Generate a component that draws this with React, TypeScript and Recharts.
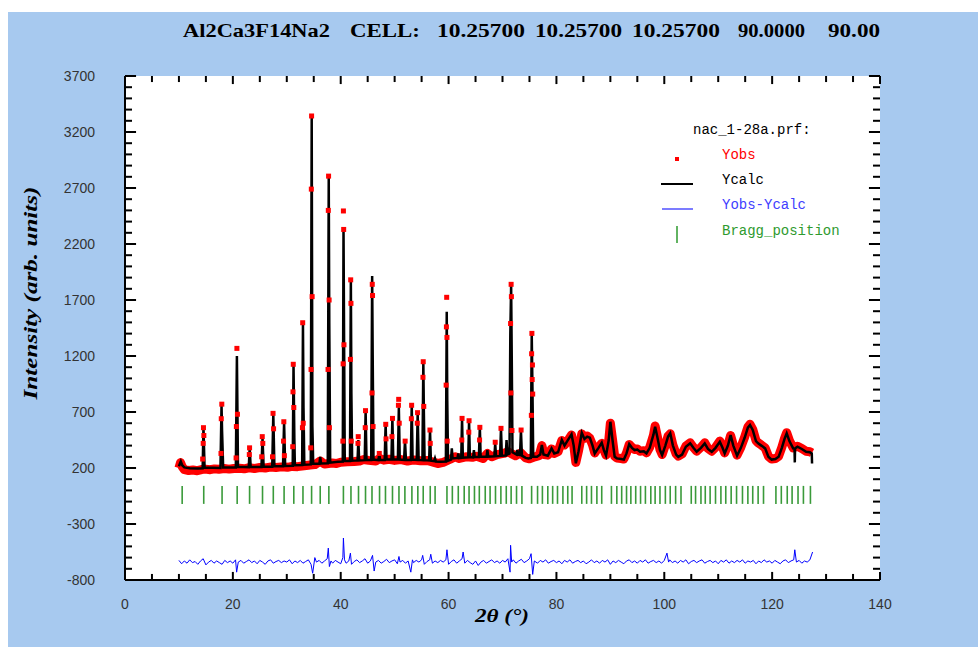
import React from "react";
import { ComposedChart, Line, Scatter, XAxis, YAxis, ReferenceLine } from "recharts";

// ---- data ----
const xMajorTicks = [0, 20, 40, 60, 80, 100, 120, 140];
const xAllTicks = [0, 5, 10, 15, 20, 25, 30, 35, 40, 45, 50, 55, 60, 65, 70, 75, 80, 85, 90, 95, 100, 105, 110, 115, 120, 125, 130, 135, 140];
const yMajorTicks = [-800, -300, 200, 700, 1200, 1700, 2200, 2700, 3200, 3700];
const yAllTicks = [
  -800, -700, -600, -500, -400, -300, -200, -100, 0, 100, 200, 300, 400, 500, 600, 700, 800, 900,
  1000, 1100, 1200, 1300, 1400, 1500, 1600, 1700, 1800, 1900, 2000, 2100, 2200, 2300, 2400, 2500,
  2600, 2700, 2800, 2900, 3000, 3100, 3200, 3300, 3400, 3500, 3600, 3700,
];

// Ycalc profile [2theta, intensity]
const calcProfile: [number, number][] = [
  [10.0, 215], [10.2, 240], [10.35, 258], [10.6, 225], [11.0, 205], [12.0, 198], [13.5, 196],
  [14.4, 198], [14.55, 565], [14.75, 205],
  [17.7, 200], [17.9, 760], [18.0, 530], [18.2, 205],
  [20.55, 205], [20.75, 1200], [20.95, 210],
  [22.95, 208], [23.12, 380], [23.3, 210],
  [25.3, 210], [25.5, 470], [25.7, 212],
  [27.3, 212], [27.5, 685], [27.7, 215],
  [29.3, 215], [29.5, 610], [29.7, 218],
  [31.1, 220], [31.25, 1125], [31.4, 470], [31.5, 225],
  [32.85, 226], [33.0, 1495], [33.1, 740], [33.25, 230],
  [34.45, 232], [34.62, 3340], [34.75, 570], [34.9, 240],
  [36.05, 238], [36.2, 300], [36.35, 240],
  [37.6, 242], [37.78, 2810], [37.88, 1500], [38.05, 248],
  [39.5, 255],
  [40.38, 258], [40.52, 2340], [40.62, 1400], [40.75, 262],
  [41.72, 262], [41.88, 1894], [41.98, 860], [42.12, 265],
  [43.12, 268], [43.27, 450], [43.42, 268],
  [44.45, 270], [44.62, 712], [44.78, 272],
  [45.65, 272], [45.83, 1914], [45.93, 1209], [46.08, 275],
  [47.0, 270], [47.15, 331], [47.3, 272],
  [48.15, 272], [48.33, 593], [48.5, 275],
  [49.4, 275], [49.58, 643], [49.75, 275],
  [50.6, 275], [50.78, 742], [50.95, 275],
  [51.75, 272], [51.92, 444], [52.1, 272],
  [53.0, 272], [53.17, 769], [53.33, 275],
  [54.1, 272], [54.27, 694], [54.45, 272],
  [55.15, 270], [55.32, 1149], [55.42, 700], [55.55, 270],
  [56.4, 268], [56.56, 539], [56.72, 265],
  [57.32, 262], [57.48, 286], [57.65, 258],
  [58.5, 255],
  [59.5, 258], [59.66, 1596], [59.76, 800], [59.9, 265],
  [60.45, 275], [60.6, 376], [60.75, 285],
  [61.65, 290], [61.8, 330], [61.95, 288],
  [62.35, 290], [62.5, 643], [62.65, 292],
  [63.65, 295], [63.8, 622], [63.95, 298],
  [64.55, 295], [64.7, 360], [64.85, 298],
  [65.62, 298], [65.8, 563], [65.95, 300],
  [67.05, 302], [67.2, 360], [67.35, 302],
  [68.5, 305], [68.65, 420], [68.8, 305],
  [69.55, 308], [69.72, 554], [69.88, 310],
  [70.6, 312], [70.75, 450], [70.9, 320],
  [71.3, 330], [71.45, 1400], [71.6, 1834], [71.72, 1164], [71.85, 340],
  [72.6, 320], [72.75, 360], [72.9, 318],
  [73.25, 315], [73.42, 539], [73.6, 310],
  [74.3, 290], [74.8, 285],
  [75.25, 290], [75.42, 1402], [75.55, 926], [75.7, 300],
  [76.4, 300], [77.0, 320], [77.3, 405], [77.6, 320], [78.4, 310], [79.1, 375], [79.6, 330],
  [80.3, 340], [81.0, 450], [81.5, 400], [82.0, 440], [82.8, 500], [83.2, 400], [83.6, 242],
  [84.1, 350], [84.7, 515], [85.2, 460], [85.7, 480], [86.2, 470], [86.7, 400], [87.1, 330],
  [87.8, 380], [88.4, 426], [88.8, 360], [89.2, 310], [89.7, 450], [90.0, 613], [90.4, 450],
  [90.8, 300], [91.2, 286], [92.0, 280], [92.5, 275], [93.0, 330], [93.5, 414], [94.0, 380],
  [94.5, 360], [95.0, 365], [95.5, 345], [96.2, 350], [96.7, 330], [97.3, 380], [98.0, 500],
  [98.3, 569], [98.7, 480], [99.2, 360], [99.6, 316], [100.2, 400], [100.7, 480], [101.1, 510],
  [101.6, 400], [102.2, 320], [102.6, 300], [103.3, 320], [104.0, 390], [104.8, 420], [105.4, 380],
  [106.0, 345], [106.8, 380], [107.5, 420], [108.1, 370], [108.8, 345], [109.5, 380], [110.3, 435],
  [110.8, 380], [111.2, 330], [111.8, 400], [112.3, 494], [112.8, 400], [113.5, 310], [114.2, 380],
  [114.9, 470], [115.5, 560], [115.9, 584], [116.4, 540], [117.0, 440], [117.4, 420], [118.0, 400],
  [118.7, 375], [119.3, 300], [119.9, 275], [120.6, 280], [121.2, 300], [121.8, 380], [122.3, 460],
  [122.7, 510], [123.2, 440], [123.9, 375], [124.15, 370], [124.2, 250], [124.25, 375], [124.7, 390],
  [125.5, 370], [126.3, 345], [127.0, 340], [127.35, 330], [127.4, 240],
];

// dense Yobs points, seen as a red band along the background
const obsBand: [number, number][] = [
  [10.0, 200], [10.3, 248], [10.6, 212], [11.0, 185], [11.8, 178], [12.6, 182], [13.4, 176], [14.2, 186],
  [14.9, 190], [15.8, 185], [16.6, 192], [17.4, 188], [18.4, 195], [19.3, 190], [20.2, 196], [21.2, 198],
  [22.1, 193], [23.0, 202], [24.0, 196], [25.0, 204], [26.0, 200], [26.9, 208], [28.0, 205], [29.0, 210],
  [30.1, 206], [31.0, 214], [32.0, 212], [33.6, 222], [34.3, 226], [35.2, 230], [36.2, 262], [37.0, 235],
  [38.4, 245], [39.2, 240], [40.0, 252], [41.2, 255], [42.5, 258], [43.5, 262], [44.2, 275], [45.2, 268],
  [46.5, 262], [47.2, 285], [48.0, 270], [49.0, 278], [50.0, 268], [51.2, 275], [52.4, 262], [53.6, 272],
  [54.8, 265], [56.0, 268], [57.0, 255], [58.0, 240], [59.0, 250], [60.3, 278], [61.2, 300], [62.0, 285],
  [63.2, 300], [64.4, 295], [65.2, 305], [66.4, 285], [67.2, 330], [68.0, 300], [69.0, 320], [70.2, 330],
  [71.0, 345], [72.4, 310], [73.4, 335], [74.3, 290], [75.0, 282], [76.0, 300], [76.8, 310], [77.3, 400],
  [77.7, 320], [78.4, 315], [79.1, 370], [79.6, 330], [80.3, 345], [81.0, 445], [81.5, 405], [82.0, 435],
  [82.8, 495], [83.2, 405], [83.6, 250], [84.1, 355], [84.7, 505], [85.2, 465], [85.7, 485], [86.2, 465],
  [86.7, 405], [87.1, 335], [87.8, 385], [88.4, 420], [88.8, 365], [89.2, 315], [89.7, 445], [90.0, 600],
  [90.4, 455], [90.8, 305], [91.2, 290], [92.0, 285], [92.5, 280], [93.0, 335], [93.5, 410], [94.0, 385],
  [94.5, 365], [95.0, 370], [95.5, 350], [96.2, 355], [96.7, 335], [97.3, 385], [98.0, 495], [98.3, 575],
  [98.7, 485], [99.2, 365], [99.6, 320], [100.2, 405], [100.7, 485], [101.1, 505], [101.6, 405], [102.2, 325],
  [102.6, 305], [103.3, 325], [104.0, 395], [104.8, 425], [105.4, 385], [106.0, 350], [106.8, 385], [107.5, 425],
  [108.1, 375], [108.8, 350], [109.5, 385], [110.3, 440], [110.8, 385], [111.2, 335], [111.8, 405], [112.3, 490],
  [112.8, 405], [113.5, 315], [114.2, 385], [114.9, 475], [115.5, 565], [115.9, 590], [116.4, 545], [117.0, 445],
  [117.4, 425], [118.0, 405], [118.7, 380], [119.3, 305], [119.9, 280], [120.6, 285], [121.2, 305], [121.8, 385],
  [122.3, 465], [122.7, 515], [123.2, 445], [123.9, 380], [124.7, 395], [125.5, 375], [126.3, 350], [127.0, 345],
  [127.4, 335],
];

// isolated Yobs points on the peak flanks and tops
const obsPeaks: [number, number][] = [
  [14.55, 560], [14.62, 490], [14.5, 420], [14.4, 280],
  [17.95, 770], [17.85, 640], [17.8, 330],
  [20.75, 1268], [20.85, 680], [20.65, 570], [20.6, 290],
  [23.1, 380], [23.05, 320],
  [25.45, 480], [25.55, 420], [25.35, 300],
  [27.45, 688], [27.55, 550], [27.35, 300],
  [29.45, 613], [29.4, 440], [29.55, 310],
  [31.2, 1126], [31.15, 880], [31.3, 740], [31.1, 390],
  [32.95, 1497], [32.9, 560], [33.05, 600],
  [34.6, 3343], [34.55, 2690], [34.7, 1730], [34.5, 1080], [34.45, 380],
  [37.75, 2806], [37.7, 2500], [37.85, 1700], [37.65, 1080], [37.9, 560],
  [40.5, 2495], [40.55, 2330], [40.6, 1300], [40.45, 1130], [40.4, 440],
  [41.85, 1880], [41.9, 1670], [41.8, 1170], [41.95, 440],
  [43.25, 480], [43.2, 420],
  [44.6, 712], [44.55, 560],
  [45.85, 1840], [45.9, 1740], [45.8, 870], [46.0, 570],
  [47.15, 330],
  [48.35, 590], [48.4, 460],
  [49.6, 643], [49.5, 480],
  [50.75, 813], [50.7, 760], [50.85, 600],
  [51.95, 440],
  [53.15, 760], [53.1, 640],
  [54.25, 694], [54.2, 600],
  [55.3, 1149], [55.25, 1010], [55.4, 750],
  [56.55, 539], [56.6, 420],
  [59.65, 1724], [59.6, 1460], [59.7, 1366], [59.55, 940], [59.75, 440],
  [62.5, 643], [62.45, 450],
  [63.8, 622], [63.75, 520],
  [65.8, 563], [65.75, 450],
  [68.65, 430],
  [69.72, 554],
  [71.6, 1840], [71.65, 1730], [71.5, 1490], [71.55, 870], [71.75, 535],
  [73.45, 539],
  [75.45, 1402], [75.4, 1220], [75.55, 1120], [75.5, 990], [75.6, 860], [75.35, 670],
];

// Yobs - Ycalc
const diffCurve: [number, number][] = [
  [10.0, -625], [10.5, -655], [11.0, -630], [11.5, -650], [12.0, -620], [12.5, -645], [13.0, -635], [13.5, -660],
  [14.0, -630], [14.5, -610], [15.0, -665], [15.5, -640], [16.0, -625], [16.5, -650], [17.0, -630], [17.5, -645],
  [18.0, -660], [18.5, -625], [19.0, -645], [19.5, -630], [20.0, -650], [20.5, -620], [20.7, -730], [21.0, -640],
  [21.5, -625], [22.0, -650], [22.5, -635], [23.0, -620], [23.5, -645], [24.0, -630], [24.5, -655], [25.0, -625],
  [25.5, -640], [26.0, -660], [26.5, -630], [27.0, -620], [27.5, -650], [28.0, -635], [28.5, -625], [29.0, -645],
  [29.5, -630], [30.0, -640], [30.5, -620], [31.0, -655], [31.5, -630], [32.0, -645], [32.5, -625], [33.0, -650],
  [33.5, -635], [34.0, -620], [34.5, -660], [34.8, -740], [35.2, -600], [35.5, -640], [36.0, -625], [36.5, -650],
  [37.0, -630], [37.5, -610], [37.7, -515], [37.9, -680], [38.2, -630], [38.5, -650], [39.0, -625], [39.5, -640],
  [40.0, -655], [40.4, -600], [40.5, -425], [40.7, -620], [41.0, -650], [41.5, -630], [41.8, -560], [42.0, -660],
  [42.5, -635], [43.0, -620], [43.5, -645], [44.0, -630], [44.5, -610], [45.0, -650], [45.5, -630], [45.9, -580],
  [46.2, -720], [46.5, -640], [47.0, -625], [47.5, -650], [48.0, -635], [48.5, -615], [49.0, -645], [49.5, -630],
  [50.0, -620], [50.5, -655], [50.8, -590], [51.0, -640], [51.5, -625], [52.0, -650], [52.5, -630], [53.0, -730],
  [53.3, -620], [53.5, -645], [54.0, -625], [54.5, -640], [55.0, -620], [55.2, -580], [55.5, -660], [56.0, -635],
  [56.5, -620], [56.7, -570], [57.0, -650], [57.5, -630], [58.0, -645], [58.5, -625], [59.0, -640], [59.5, -620],
  [59.7, -530], [60.0, -660], [60.5, -635], [61.0, -620], [61.5, -650], [62.0, -630], [62.5, -610], [62.7, -550],
  [63.0, -650], [63.5, -625], [64.0, -645], [64.5, -660], [65.0, -630], [65.5, -670], [66.0, -640], [66.5, -625],
  [67.0, -650], [67.5, -635], [68.0, -620], [68.5, -645], [69.0, -630], [69.5, -650], [70.0, -625], [70.5, -640],
  [71.0, -610], [71.4, -730], [71.5, -490], [71.7, -640], [72.0, -620], [72.5, -650], [73.0, -630], [73.5, -615],
  [74.0, -645], [74.5, -630], [75.0, -610], [75.3, -565], [75.6, -750], [75.9, -630], [76.5, -650], [77.0, -625],
  [77.5, -640], [78.0, -620], [78.5, -650], [79.0, -635], [79.5, -625], [80.0, -645], [80.5, -630], [81.0, -655],
  [81.5, -625], [82.0, -640], [82.5, -620], [83.0, -650], [83.5, -635], [84.0, -625], [84.5, -645], [85.0, -630],
  [85.5, -655], [86.0, -640], [86.5, -620], [87.0, -645], [87.5, -630], [88.0, -650], [88.5, -625], [89.0, -640],
  [89.5, -620], [90.0, -660], [90.5, -630], [91.0, -645], [91.5, -625], [92.0, -640], [92.5, -655], [93.0, -630],
  [93.5, -620], [94.0, -645], [94.5, -630], [95.0, -650], [95.5, -625], [96.0, -640], [96.5, -620], [97.0, -650],
  [97.5, -635], [98.0, -625], [98.5, -645], [99.0, -630], [99.5, -650], [100.0, -625], [100.5, -560], [100.8, -640],
  [101.0, -620], [101.5, -645], [102.0, -630], [102.5, -650], [103.0, -625], [103.5, -640], [104.0, -620], [104.5, -655],
  [105.0, -635], [105.5, -625], [106.0, -645], [106.5, -630], [107.0, -620], [107.5, -650], [108.0, -635], [108.5, -625],
  [109.0, -645], [109.5, -630], [110.0, -655], [110.5, -625], [111.0, -640], [111.5, -620], [112.0, -650], [112.5, -630],
  [113.0, -645], [113.5, -625], [114.0, -640], [114.5, -620], [115.0, -650], [115.5, -630], [116.0, -640], [116.5, -625],
  [117.0, -655], [117.5, -630], [118.0, -645], [118.5, -620], [119.0, -640], [119.5, -630], [120.0, -650], [120.5, -625],
  [121.0, -640], [121.5, -655], [122.0, -630], [122.5, -620], [123.0, -645], [123.5, -630], [124.0, -620], [124.2, -530],
  [124.5, -640], [125.0, -625], [125.5, -650], [126.0, -630], [126.5, -640], [127.0, -620], [127.5, -550],
];

const braggPositions = [
  10.6, 14.6, 18.0, 20.8, 23.1, 25.5, 27.5, 29.5, 31.3, 33.0, 34.6, 36.2, 37.8,
  40.5, 41.9, 43.3, 44.6, 45.8, 47.2, 48.3, 49.6, 50.8, 51.9, 53.2, 54.3, 55.3, 56.6, 57.5,
  59.7, 60.7, 61.8, 62.9, 63.8, 64.8, 65.7, 66.8, 67.7, 68.7, 69.7,
  70.7, 71.6, 72.6, 73.6, 75.4, 76.5, 77.4, 78.4, 79.3, 80.2, 81.2, 82.1, 82.9,
  84.7, 85.6, 86.5, 87.5, 88.4, 90.2, 91.2, 92.1, 93.0, 93.8, 94.7, 95.6, 96.5, 97.5, 98.3, 99.2,
  100.2, 101.1, 102.1, 103.1, 105.0, 105.8, 106.8, 107.6, 108.5, 109.5, 110.5, 111.4, 112.4, 113.4,
  114.5, 115.5, 116.4, 117.4, 118.4, 120.7, 121.7, 122.8, 123.7, 124.8, 125.8, 127.1,
];
const braggLevel = -40;

const titleParts: [string, number, number][] = [
  ["Al2Ca3F14Na2", 183, 147],
  ["CELL:", 350, 70],
  ["10.25700", 437, 88],
  ["10.25700", 535, 87],
  ["10.25700", 632, 88],
  ["90.0000", 738, 67],
  ["90.00", 828, 52],
];

const toPts = (arr: [number, number][]) => arr.map(([x, y]) => ({ x, y }));

const SANS = '"Liberation Sans", Arial, sans-serif';
const SERIF = '"Liberation Serif", "Times New Roman", serif';
const MONO = '"Liberation Mono", "Courier New", monospace';

const X_MIN = 0, X_MAX = 140, Y_MIN = -800, Y_MAX = 3700;
// inward frame tick lengths, in data units
const xTickLen = { major: 2.05, minor: 1.3 };
const yTickLen = { major: 72, minor: 54 };

const ObsDot = (p: any) => <rect x={p.cx - 2.5} y={p.cy - 2.5} width={5} height={5} fill="#ff0000" />;
const BraggTick = (p: any) => <line x1={p.cx} x2={p.cx} y1={p.cy - 9} y2={p.cy + 9} stroke="#3a9a3a" strokeWidth={1.6} />;

const frame = { stroke: "#000", strokeWidth: 2 };
const labelStyle = { fontFamily: SANS, fontSize: 14, fill: "#333" };

export default function App() {
  const tickLines: React.ReactNode[] = [];
  xAllTicks.forEach((x) => {
    const len = xMajorTicks.includes(x) ? yTickLen.major : yTickLen.minor;
    tickLines.push(
      <ReferenceLine key={`b${x}`} xAxisId="b" yAxisId="l" ifOverflow="visible" stroke="#000" strokeWidth={2}
        segment={[{ x, y: Y_MIN }, { x, y: Y_MIN + len }]} />,
      <ReferenceLine key={`t${x}`} xAxisId="b" yAxisId="l" ifOverflow="visible" stroke="#000" strokeWidth={2}
        segment={[{ x, y: Y_MAX }, { x, y: Y_MAX - len }]} />,
    );
  });
  yAllTicks.forEach((y) => {
    const len = yMajorTicks.includes(y) ? xTickLen.major : xTickLen.minor;
    tickLines.push(
      <ReferenceLine key={`l${y}`} xAxisId="b" yAxisId="l" ifOverflow="visible" stroke="#000" strokeWidth={2}
        segment={[{ x: X_MIN, y }, { x: X_MIN + len, y }]} />,
      <ReferenceLine key={`r${y}`} xAxisId="b" yAxisId="l" ifOverflow="visible" stroke="#000" strokeWidth={2}
        segment={[{ x: X_MAX, y }, { x: X_MAX - len, y }]} />,
    );
  });

  return (
    <div style={{ position: "absolute", left: 0, top: 0, width: 978, height: 647, background: "#fff" }}>
      <div style={{ position: "absolute", left: 8, top: 12, width: 970, height: 635, background: "#a7c9ef" }} />
      <div style={{ position: "absolute", left: 125, top: 76, width: 755, height: 504, background: "#fff" }} />
      <div style={{ position: "absolute", left: 0, top: 0 }}>
        <ComposedChart width={978} height={647} margin={{ top: 76, right: 98, bottom: 37, left: 65 }}>
          <XAxis
            xAxisId="b" dataKey="x" type="number" domain={[X_MIN, X_MAX]} ticks={xMajorTicks} interval={0}
            allowDataOverflow height={30} tickSize={0} tickMargin={19} tickLine={false}
            axisLine={frame} tick={labelStyle}
          />
          <XAxis
            xAxisId="t" dataKey="x" orientation="top" type="number" domain={[X_MIN, X_MAX]}
            allowDataOverflow height={0} tick={false} tickLine={false} axisLine={frame}
          />
          <YAxis
            yAxisId="l" dataKey="y" type="number" domain={[Y_MIN, Y_MAX]} ticks={yMajorTicks} interval={0}
            allowDataOverflow width={60} tickSize={0} tickMargin={30} tickLine={false}
            axisLine={frame} tick={labelStyle}
          />
          <YAxis
            yAxisId="r" dataKey="y" orientation="right" type="number" domain={[Y_MIN, Y_MAX]}
            allowDataOverflow width={0} tick={false} tickLine={false} axisLine={frame}
          />
          <Line
            xAxisId="b" yAxisId="l" data={toPts(obsBand)} dataKey="y" type="linear" stroke="#ff0000"
            strokeWidth={9} strokeLinejoin="round" dot={false} activeDot={false} isAnimationActive={false}
          />
          <Scatter xAxisId="b" yAxisId="l" data={toPts(obsPeaks)} shape={<ObsDot />} isAnimationActive={false} />
          <Line
            xAxisId="b" yAxisId="l" data={toPts(calcProfile)} dataKey="y" type="linear" stroke="#000"
            strokeWidth={2.5} dot={false} activeDot={false} isAnimationActive={false}
          />
          <Line
            xAxisId="t" yAxisId="r" data={toPts(diffCurve)} dataKey="y" type="linear" stroke="#0000ff"
            strokeWidth={1} dot={false} activeDot={false} isAnimationActive={false}
          />
          <Scatter
            xAxisId="t" yAxisId="r" data={braggPositions.map((x) => ({ x, y: braggLevel }))}
            shape={<BraggTick />} isAnimationActive={false}
          />
          {tickLines}
        </ComposedChart>
      </div>
      <svg width={978} height={647} style={{ position: "absolute", left: 0, top: 0, pointerEvents: "none" }}>
        {titleParts.map(([t, x, w], i) => (
          <text key={i} x={x} y={37} textLength={w} lengthAdjust="spacingAndGlyphs" fontFamily={SERIF} fontWeight="bold" fontSize={19} fill="#000">
            {t}
          </text>
        ))}
        <text
          transform="translate(37,293) rotate(-90)" textAnchor="middle" textLength={213} lengthAdjust="spacingAndGlyphs"
          fontFamily={SERIF} fontWeight="bold" fontStyle="italic" fontSize={19} fill="#000"
        >
          Intensity (arb. units)
        </text>
        <text x={475} y={622} textLength={54} lengthAdjust="spacingAndGlyphs" fontFamily={SERIF} fontWeight="bold" fontStyle="italic" fontSize={19} fill="#000">
          2θ (°)
        </text>
        <g fontFamily={MONO} fontSize={14}>
          <text x={693} y={134} fill="#000">nac_1-28a.prf:</text>
          <rect x={675} y={157} width={4} height={4} fill="#ff0000" />
          <text x={722} y={159} fill="#ff0000">Yobs</text>
          <line x1={661} x2={693} y1={184} y2={184} stroke="#000" strokeWidth={2} />
          <text x={722} y={184} fill="#000">Ycalc</text>
          <line x1={662} x2={693} y1={209} y2={209} stroke="#5050ff" strokeWidth={1.5} />
          <text x={722} y={209} fill="#4040ff">Yobs-Ycalc</text>
          <line x1={677} x2={677} y1={226} y2={243} stroke="#2e9a2e" strokeWidth={1.5} />
          <text x={722} y={235} fill="#2e9a2e">Bragg_position</text>
        </g>
      </svg>
    </div>
  );
}
